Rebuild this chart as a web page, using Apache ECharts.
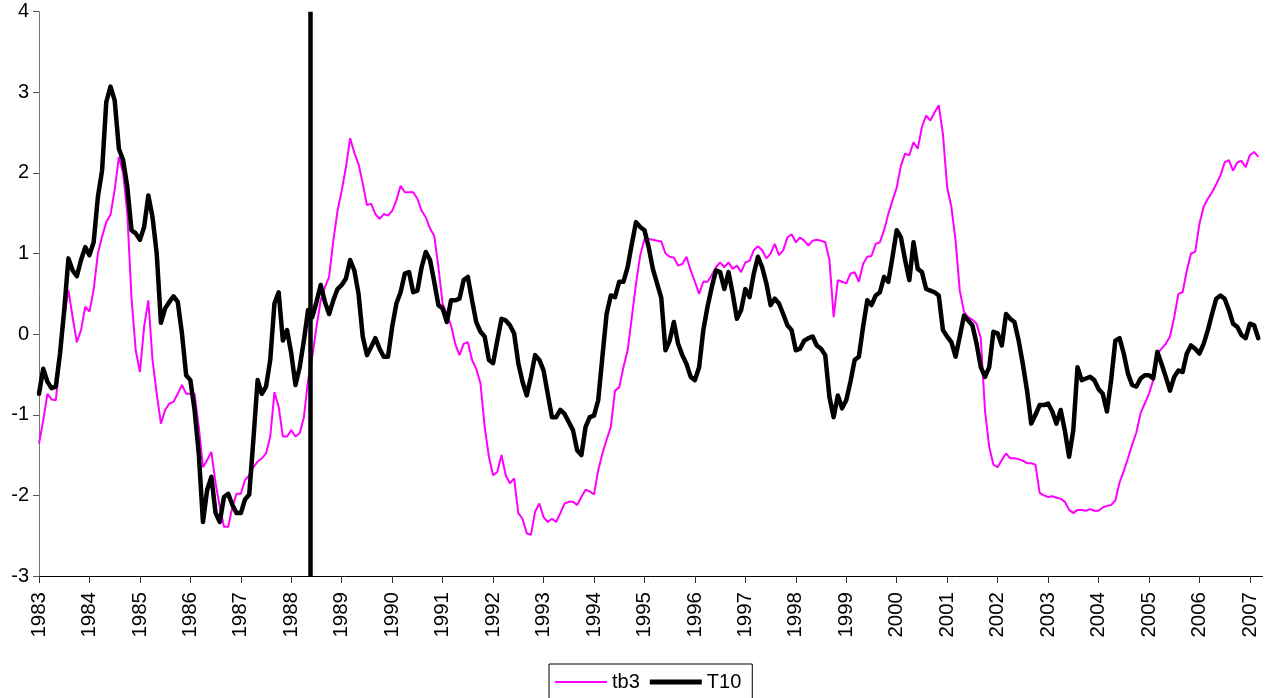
<!DOCTYPE html>
<html>
<head>
<meta charset="utf-8">
<script src="https://cdn.jsdelivr.net/npm/echarts@6/dist/echarts.min.js"></script>
<style>
html,body{margin:0;padding:0;background:#fff;}
#chart{width:1265px;height:698px;}
</style>
</head>
<body>
<div id="chart"></div>
<script>
// Monthly data starting January 1983
const startYear = 1983;
const seriesNames = ['tb3', 'T10'];
const breakDate = 1988.375;
const yTicks = [-3, -2, -1, 0, 1, 2, 3, 4];

const tb3 = [
  -1.36,-1.07,-0.74,-0.81,-0.82,-0.30,0.20,0.55,0.21,-0.10,0.05,0.34,
  0.28,0.55,1.00,1.21,1.39,1.48,1.79,2.20,2.00,1.50,0.45,-0.20,
  -0.47,0.09,0.42,-0.32,-0.74,-1.11,-0.94,-0.86,-0.84,-0.74,-0.63,-0.74,
  -0.74,-0.74,-1.15,-1.65,-1.56,-1.46,-1.85,-2.14,-2.39,-2.39,-2.14,-1.98,
  -1.98,-1.81,-1.75,-1.65,-1.58,-1.54,-1.48,-1.27,-0.72,-0.90,-1.27,-1.27,
  -1.19,-1.27,-1.23,-1.03,-0.57,-0.28,0.09,0.42,0.58,0.71,1.16,1.53,
  1.78,2.07,2.43,2.25,2.11,1.87,1.60,1.62,1.49,1.43,1.49,1.47,
  1.53,1.66,1.84,1.76,1.76,1.76,1.68,1.53,1.45,1.31,1.22,0.83,
  0.38,0.25,0.11,-0.12,-0.26,-0.12,-0.10,-0.32,-0.43,-0.61,-1.15,-1.52,
  -1.75,-1.71,-1.50,-1.75,-1.85,-1.79,-2.22,-2.29,-2.47,-2.49,-2.20,-2.10,
  -2.27,-2.33,-2.29,-2.33,-2.22,-2.10,-2.08,-2.08,-2.12,-2.02,-1.93,-1.95,
  -1.99,-1.69,-1.48,-1.31,-1.15,-0.70,-0.66,-0.41,-0.20,0.21,0.63,0.98,
  1.18,1.18,1.17,1.16,1.15,1.00,0.96,0.95,0.85,0.87,0.96,0.79,
  0.65,0.50,0.65,0.65,0.73,0.83,0.89,0.83,0.89,0.81,0.85,0.77,
  0.89,0.91,1.04,1.09,1.04,0.94,1.00,1.12,0.98,1.04,1.20,1.24,
  1.14,1.20,1.16,1.10,1.16,1.17,1.16,1.14,0.92,0.21,0.67,0.65,
  0.63,0.75,0.77,0.65,0.87,0.96,0.97,1.12,1.14,1.29,1.49,1.66,
  1.82,2.09,2.24,2.22,2.38,2.30,2.57,2.71,2.65,2.75,2.84,2.48,
  1.82,1.58,1.16,0.54,0.28,0.21,0.18,0.13,-0.05,-0.95,-1.40,-1.62,
  -1.65,-1.56,-1.48,-1.54,-1.54,-1.55,-1.57,-1.60,-1.60,-1.62,-1.97,-2.00,
  -2.02,-2.01,-2.03,-2.04,-2.08,-2.18,-2.22,-2.18,-2.18,-2.19,-2.17,-2.19,
  -2.19,-2.15,-2.13,-2.12,-2.06,-1.84,-1.70,-1.54,-1.37,-1.22,-0.98,-0.86,
  -0.74,-0.57,-0.24,-0.18,-0.12,-0.03,0.21,0.50,0.52,0.79,1.00,1.02,
  1.37,1.58,1.68,1.76,1.86,1.97,2.13,2.16,2.03,2.13,2.15,2.07,
  2.22,2.26,2.20
];

const t10 = [
  -0.74,-0.43,-0.59,-0.67,-0.65,-0.24,0.30,0.94,0.79,0.72,0.92,1.08,
  0.98,1.14,1.70,2.03,2.88,3.07,2.90,2.30,2.16,1.83,1.29,1.25,
  1.17,1.33,1.72,1.45,1.00,0.14,0.32,0.40,0.47,0.40,0.01,-0.51,
  -0.57,-0.94,-1.48,-2.33,-1.93,-1.77,-2.22,-2.33,-2.02,-1.98,-2.12,-2.22,
  -2.22,-2.05,-1.99,-1.30,-0.57,-0.74,-0.65,-0.32,0.38,0.52,-0.08,0.05,
  -0.24,-0.63,-0.41,-0.08,0.30,0.21,0.40,0.61,0.40,0.25,0.42,0.56,
  0.61,0.69,0.92,0.79,0.50,-0.03,-0.26,-0.16,-0.05,-0.18,-0.28,-0.28,
  0.09,0.38,0.52,0.75,0.77,0.52,0.54,0.83,1.02,0.92,0.65,0.36,
  0.32,0.15,0.42,0.42,0.44,0.67,0.71,0.42,0.15,0.03,-0.03,-0.32,
  -0.36,-0.08,0.19,0.17,0.11,0.01,-0.36,-0.59,-0.76,-0.53,-0.26,-0.32,
  -0.45,-0.74,-1.03,-1.03,-0.94,-0.99,-1.09,-1.19,-1.44,-1.50,-1.15,-1.03,
  -1.01,-0.82,-0.28,0.25,0.48,0.46,0.65,0.65,0.83,1.12,1.39,1.33,
  1.29,1.08,0.81,0.63,0.45,-0.20,-0.08,0.15,-0.12,-0.26,-0.37,-0.53,
  -0.57,-0.41,0.05,0.34,0.58,0.79,0.77,0.56,0.77,0.50,0.19,0.30,
  0.56,0.46,0.75,0.96,0.83,0.63,0.36,0.44,0.38,0.25,0.11,0.05,
  -0.20,-0.18,-0.08,-0.05,-0.03,-0.14,-0.18,-0.26,-0.78,-1.03,-0.76,-0.92,
  -0.82,-0.59,-0.32,-0.28,0.09,0.42,0.36,0.48,0.52,0.71,0.65,0.96,
  1.29,1.20,0.92,0.67,1.14,0.81,0.77,0.56,0.54,0.52,0.48,0.05,
  -0.03,-0.10,-0.28,-0.03,0.23,0.17,0.11,-0.12,-0.41,-0.53,-0.41,0.03,
  0.01,-0.14,0.25,0.19,0.15,-0.08,-0.37,-0.70,-1.11,-1.00,-0.88,-0.88,
  -0.86,-0.96,-1.11,-0.94,-1.20,-1.52,-1.19,-0.41,-0.57,-0.55,-0.53,-0.57,
  -0.68,-0.74,-0.96,-0.57,-0.08,-0.05,-0.24,-0.49,-0.63,-0.65,-0.55,-0.51,
  -0.51,-0.55,-0.22,-0.37,-0.53,-0.70,-0.53,-0.45,-0.47,-0.24,-0.14,-0.18,
  -0.24,-0.12,0.05,0.25,0.44,0.48,0.44,0.30,0.13,0.09,-0.01,-0.05,
  0.13,0.11,-0.05
];

function toPairs(arr) {
  return arr.map((v, i) => [startYear + i / 12, v]);
}

const FONT = '"Liberation Sans", Arial, sans-serif';
const chart = echarts.init(document.getElementById('chart'), null, {renderer: 'canvas'});

const option = {
  animation: false,
  backgroundColor: '#ffffff',
  textStyle: {fontFamily: FONT},
  grid: {left: 39, right: 2.5, top: 11.7, bottom: 122, containLabel: false},
  legend: {
    left: 549, top: 664,
    orient: 'horizontal',
    borderColor: '#000', borderWidth: 1,
    padding: [8, 11, 10, 6],
    itemWidth: 52, itemHeight: 20, itemGap: 10,
    symbolKeepAspect: true,
    textStyle: {fontSize: 20, color: '#000', fontFamily: FONT},
    data: [
      {name: seriesNames[0], icon: 'path://M0,0H52V2H0Z', itemStyle: {color: '#ff00ff'}},
      {name: seriesNames[1], icon: 'path://M0,0H52V5H0Z', itemStyle: {color: '#000000'}}
    ]
  },
  xAxis: {
    type: 'value',
    min: 1983, max: 2007.25, interval: 1,
    axisLine: {onZero: false, lineStyle: {color: '#000', width: 1}},
    axisTick: {show: true, inside: false, length: 7, lineStyle: {color: '#333'}},
    splitLine: {show: false},
    axisLabel: {
      rotate: 90, margin: 16, fontSize: 20.5, color: '#000', fontFamily: FONT,
      showMaxLabel: false,
      formatter: v => (Math.abs(v - Math.round(v)) < 1e-6 ? String(Math.round(v)) : '')
    }
  },
  yAxis: {
    type: 'value',
    min: yTicks[0], max: yTicks[yTicks.length - 1], interval: 1,
    axisLine: {show: true, onZero: false, lineStyle: {color: '#777', width: 1}},
    axisTick: {show: true, inside: false, length: 6, lineStyle: {color: '#555'}},
    splitLine: {show: false},
    axisLabel: {margin: 10, fontSize: 20, color: '#000', fontFamily: FONT}
  },
  series: [
    {
      name: seriesNames[0], type: 'line', data: toPairs(tb3),
      showSymbol: false, symbol: 'none',
      lineStyle: {color: '#ff00ff', width: 2},
      itemStyle: {color: '#ff00ff'},
      z: 2
    },
    {
      name: seriesNames[1], type: 'line', data: toPairs(t10),
      showSymbol: false, symbol: 'none',
      lineStyle: {color: '#000000', width: 4.5, join: 'round', cap: 'round'},
      itemStyle: {color: '#000000'},
      z: 3,
      markLine: {
        silent: true, symbol: 'none', label: {show: false},
        lineStyle: {color: '#000', width: 4.5, type: 'solid'},
        data: [{xAxis: breakDate}]
      }
    }
  ]
};
chart.setOption(option);
</script>
</body>
</html>
